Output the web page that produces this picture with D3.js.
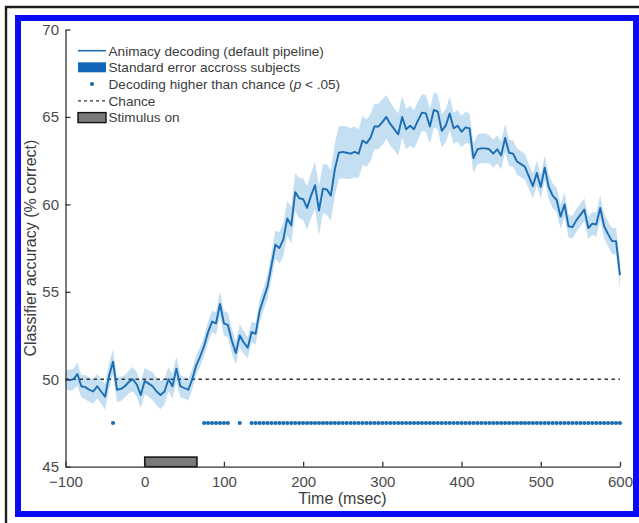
<!DOCTYPE html>
<html>
<head>
<meta charset="utf-8">
<script src="https://cdn.jsdelivr.net/npm/d3@7"></script>
<style>
  html, body { margin: 0; padding: 0; background: #fff; }
  svg { display: block; font-family: "Liberation Sans", Arial, Helvetica, sans-serif; }
</style>
</head>
<body>
<svg id="chart" width="639" height="523"></svg>
<script>
// Time samples (msec), every 5 ms from -100 to 600
const times = d3.range(-100, 601, 5);

// Mean animacy decoding accuracy (% correct) at each time sample
const accuracy = [
  50.0, 49.95, 50.0, 50.3, 49.6, 49.55, 49.4, 49.3, 49.6, 49.3,
  49.0, 50.2, 51.0, 49.4, 49.45, 49.6, 49.85, 50.0, 49.7, 49.1,
  49.9, 49.75, 49.6, 49.3, 49.1, 49.3, 50.0, 49.6, 50.6, 49.6,
  49.5, 49.4, 50.0, 50.8, 51.3, 51.9, 52.7, 53.3, 53.2, 54.3,
  53.2, 53.1, 52.2, 51.5, 52.5, 52.1, 51.8, 52.7, 52.6, 53.9,
  54.6, 55.3, 56.5, 57.7, 57.5, 58.0, 59.2, 58.8, 60.7, 60.35,
  60.3, 59.8, 60.5, 61.1, 59.65, 60.9, 60.85, 60.5, 62.0, 62.95,
  63.0, 62.95, 62.9, 63.0, 62.9, 63.65, 63.5, 63.8, 64.45, 64.45,
  64.7, 65.0, 64.6, 64.3, 64.0, 65.0, 64.3, 64.5, 64.3, 64.8,
  65.25, 65.2, 64.45, 65.4, 65.3, 64.2, 64.5, 65.2, 64.35, 64.5,
  64.15, 64.4, 64.35, 62.65, 63.15, 63.2, 63.2, 63.15, 62.9, 63.15,
  62.8, 63.8, 62.95, 62.9, 62.45, 62.3, 62.15, 61.6, 61.05, 61.8,
  61.0, 62.1, 61.0, 60.5, 60.25, 59.3, 60.0, 58.75, 58.7, 59.1,
  59.4, 59.7, 58.65, 58.9, 58.85, 59.8, 58.75, 58.3, 57.9, 57.9,
  55.95
];

// Standard error across subjects at each time sample
const stdErr = [
  0.55, 0.6, 0.6, 0.65, 0.65, 0.7, 0.7, 0.7, 0.7,
  0.7, 0.75, 0.75, 0.7, 0.7, 0.7, 0.65, 0.65, 0.7, 0.7, 0.75, 0.75,
  0.75, 0.8, 0.8, 0.8, 0.75, 0.7, 0.7, 0.7, 0.65, 0.6, 0.6, 0.6,
  0.55, 0.55, 0.55, 0.6, 0.6, 0.65, 0.7, 0.7, 0.7, 0.7, 0.65, 0.65, 0.65, 0.6, 0.6, 0.6, 0.65, 0.65,
  0.7, 0.75, 0.8, 0.9, 0.95, 1.0, 1.05, 1.1, 1.15, 1.2,
  1.25, 1.3, 1.35, 1.4, 1.4, 1.45, 1.45, 1.5, 1.5, 1.5, 1.5, 1.45, 1.45, 1.4, 1.4, 1.35, 1.35, 1.3, 1.3, 1.3,
  1.25, 1.25, 1.2, 1.2, 1.2, 1.15, 1.15, 1.1, 1.1, 1.05, 1.05, 1.0, 1.0, 1.0, 0.95, 0.95, 0.95, 0.9, 0.9, 0.9,
  0.9, 0.85, 0.85, 0.85, 0.85, 0.85, 0.8, 0.8, 0.8, 0.8, 0.8, 0.75, 0.75, 0.75, 0.75, 0.75, 0.7, 0.7, 0.7, 0.7,
  0.7, 0.7, 0.7, 0.7, 0.7, 0.7, 0.65, 0.65, 0.65, 0.65, 0.65, 0.65, 0.65, 0.7, 0.7, 0.7, 0.7, 0.75, 0.75, 0.75
];

// Time samples where decoding is above chance (p < .05)
const significantTimes = [-40, 75, 80, 85, 90, 95, 100, 105, 120].concat(d3.range(135, 601, 5));
const significanceLevel = 47.5;

// Chance level and stimulus presentation window
const chanceLevel = 50;
const stimulusWindow = [0, 66];
const stimulusHeight = [45, 45.55];

// Axis ticks
const xTicks = [-100, 0, 100, 200, 300, 400, 500, 600];
const yTicks = [45, 50, 55, 60, 65, 70];

// Legend entries
const legendLabels = [
  "Animacy decoding (default pipeline)",
  "Standard error accross subjects",
  "Decoding higher than chance (",
  "Chance",
  "Stimulus on"
];

const lineColor = "#1a6db2";
const bandColor = "#c4def2";
const textColor = "#3c3c3c";

const svg = d3.select("#chart");

// Outer frame
svg.append("line").attr("x1", 5).attr("x2", 639).attr("y1", 7).attr("y2", 7)
  .attr("stroke", "#1e1e1e").attr("stroke-width", 2.4);
svg.append("line").attr("x1", 6).attr("x2", 6).attr("y1", 6).attr("y2", 523)
  .attr("stroke", "#1e1e1e").attr("stroke-width", 2.4);
svg.append("rect").attr("x", 18).attr("y", 18).attr("width", 618).attr("height", 496)
  .attr("fill", "#fff").attr("stroke", "#0a0af5").attr("stroke-width", 6);

const x = d3.scaleLinear().domain([-100, 600]).range([65.5, 620]);
const y = d3.scaleLinear().domain([45, 70]).range([466.7, 29.5]);

const data = times.map((t, i) => ({ t, v: accuracy[i], se: stdErr[i] }));

// Standard error band
svg.append("path")
  .datum(data)
  .attr("fill", bandColor)
  .attr("d", d3.area().x(d => x(d.t)).y0(d => y(d.v - d.se)).y1(d => y(d.v + d.se)));

// Chance line
svg.append("line")
  .attr("x1", x(-100)).attr("x2", x(600))
  .attr("y1", y(chanceLevel)).attr("y2", y(chanceLevel))
  .attr("stroke", "#333").attr("stroke-width", 1.3).attr("stroke-dasharray", "3.5,3.5");

// Mean decoding curve
svg.append("path")
  .datum(data)
  .attr("fill", "none")
  .attr("stroke", lineColor)
  .attr("stroke-width", 1.9)
  .attr("stroke-linejoin", "round")
  .attr("d", d3.line().x(d => x(d.t)).y(d => y(d.v)));

// Significant time points
svg.append("g").selectAll("circle")
  .data(significantTimes)
  .join("circle")
  .attr("cx", d => x(d)).attr("cy", y(significanceLevel)).attr("r", 2.1)
  .attr("fill", lineColor);

// Stimulus on bar
svg.append("rect")
  .attr("x", x(stimulusWindow[0])).attr("width", x(stimulusWindow[1]) - x(stimulusWindow[0]))
  .attr("y", y(stimulusHeight[1])).attr("height", y(stimulusHeight[0]) - y(stimulusHeight[1]))
  .attr("fill", "#7a7a7a").attr("stroke", "#111").attr("stroke-width", 1.5);

// Axes
const xAxis = svg.append("g")
  .attr("transform", `translate(0,${y(45)})`)
  .call(d3.axisBottom(x).tickValues(xTicks).tickSizeInner(-5).tickSizeOuter(0).tickPadding(10));
const yAxis = svg.append("g")
  .attr("transform", `translate(${x(-100)},0)`)
  .call(d3.axisLeft(y).tickValues(yTicks).tickSizeInner(-5).tickSizeOuter(0).tickPadding(6.5));

[xAxis, yAxis].forEach(g => {
  g.selectAll("path, line").attr("stroke", "#333").attr("stroke-width", 1.3);
  g.selectAll("text").attr("fill", "#4a4a4a").style("font-size", "15px")
    .style("font-family", "'Liberation Sans', Arial, sans-serif");
});

// Axis titles
svg.append("text")
  .attr("x", 342.5).attr("y", 504)
  .attr("text-anchor", "middle")
  .attr("fill", textColor).style("font-size", "16px")
  .text("Time (msec)");
svg.append("text")
  .attr("transform", `translate(36,${(y(45) + y(70)) / 2}) rotate(-90)`)
  .attr("text-anchor", "middle")
  .attr("fill", textColor).style("font-size", "16px")
  .text("Classifier accuracy (% correct)");

// Legend
const legend = svg.append("g");
const legendRows = [50.7, 67.3, 84, 100.8, 117.6];
const symX0 = 78, symX1 = 106, textX = 108.5;

legend.append("line").attr("x1", symX0).attr("x2", symX1)
  .attr("y1", legendRows[0]).attr("y2", legendRows[0])
  .attr("stroke", lineColor).attr("stroke-width", 1.6);
legend.append("rect").attr("x", symX0).attr("y", legendRows[1] - 5)
  .attr("width", symX1 - symX0).attr("height", 10).attr("fill", "#1467b8");
legend.append("circle").attr("cx", (symX0 + symX1) / 2).attr("cy", legendRows[2]).attr("r", 2.1)
  .attr("fill", lineColor);
legend.append("line").attr("x1", symX0).attr("x2", symX1)
  .attr("y1", legendRows[3]).attr("y2", legendRows[3])
  .attr("stroke", "#333").attr("stroke-width", 1.2).attr("stroke-dasharray", "3,3");
legend.append("rect").attr("x", symX0).attr("y", legendRows[4] - 5)
  .attr("width", symX1 - symX0).attr("height", 10)
  .attr("fill", "#7a7a7a").attr("stroke", "#111").attr("stroke-width", 1.4);

legend.selectAll("text.lbl")
  .data(legendLabels)
  .join("text")
  .attr("class", "lbl")
  .attr("x", textX).attr("y", (d, i) => legendRows[i])
  .attr("dy", "0.36em")
  .attr("fill", textColor).style("font-size", "13.6px")
  .each(function (d, i) {
    const t = d3.select(this);
    t.append("tspan").text(d);
    if (i === 2) {
      t.append("tspan").style("font-style", "italic").text("p");
      t.append("tspan").text(" < .05)");
    }
  });
</script>
</body>
</html>
